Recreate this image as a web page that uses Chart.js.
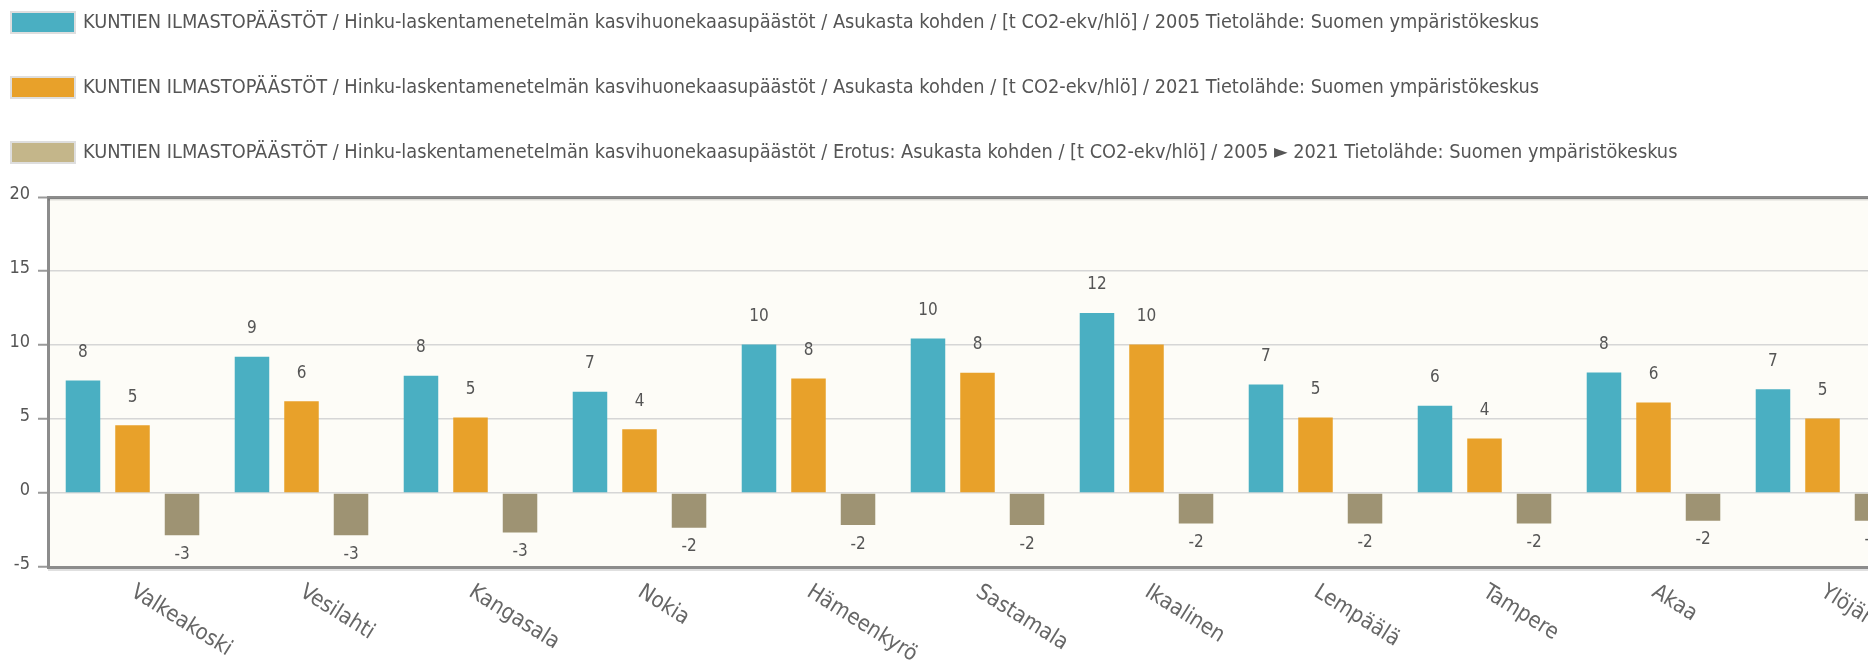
<!DOCTYPE html>
<html><head><meta charset="utf-8">
<script src="https://cdn.jsdelivr.net/npm/chart.js@4.4.1/dist/chart.umd.min.js"></script>
<style>
html,body{margin:0;padding:0;background:#fff;overflow:hidden;width:1868px;height:665px;}
#wrap{position:absolute;left:0;top:0;width:1912px;height:665px;}
</style></head><body>
<div id="wrap"><canvas id="c" width="1912" height="665"></canvas></div>
<script>
const categories = ['Valkeakoski','Vesilahti','Kangasala','Nokia','Hämeenkyrö','Sastamala','Ikaalinen','Lempäälä','Tampere','Akaa','Ylöjärvi'];
const seriesNames = [
  'KUNTIEN ILMASTOPÄÄSTÖT / Hinku-laskentamenetelmän kasvihuonekaasupäästöt / Asukasta kohden / [t CO2-ekv/hlö] / 2005 Tietolähde: Suomen ympäristökeskus',
  'KUNTIEN ILMASTOPÄÄSTÖT / Hinku-laskentamenetelmän kasvihuonekaasupäästöt / Asukasta kohden / [t CO2-ekv/hlö] / 2021 Tietolähde: Suomen ympäristökeskus',
  'KUNTIEN ILMASTOPÄÄSTÖT / Hinku-laskentamenetelmän kasvihuonekaasupäästöt / Erotus: Asukasta kohden / [t CO2-ekv/hlö] / 2005 ► 2021 Tietolähde: Suomen ympäristökeskus'
];
const values2005 = [7.6, 9.2, 7.92, 6.84, 10.03, 10.44, 12.17, 7.33, 5.89, 8.14, 7.01];
const values2021 = [4.58, 6.2, 5.1, 4.31, 7.74, 8.12, 10.03, 5.1, 3.68, 6.11, 5.03];
const valuesDiff = [-2.85, -2.85, -2.67, -2.35, -2.17, -2.17, -2.06, -2.06, -2.06, -1.88, -1.87];
const yTicks = [-5, 0, 5, 10, 15, 20];

const FONT = "'DejaVu Sans Condensed','DejaVu Sans',sans-serif";
const barColors = ['#4AAFC2', '#E8A12A', '#9E9373'];
const legendBoxColors = ['#4AAFC2', '#E8A12A', '#C4B68A'];

const plotBg = {
  id: 'plotBg',
  beforeDraw(chart) {
    const {ctx, chartArea: a} = chart;
    ctx.save();
    ctx.fillStyle = '#FDFCF7';
    ctx.fillRect(a.left, a.top, a.right - a.left, a.bottom - a.top);
    ctx.restore();
  },
  afterDraw(chart) {
    const {ctx, chartArea: a} = chart;
    ctx.save();
    ctx.strokeStyle = 'rgba(0,0,0,0.12)';
    ctx.lineWidth = 2;
    ctx.beginPath();
    ctx.moveTo(a.left, a.bottom + 3); ctx.lineTo(a.right, a.bottom + 3);
    ctx.moveTo(a.left, a.top + 2.5); ctx.lineTo(a.right, a.top + 2.5);
    ctx.stroke();
    ctx.restore();
  }
};

const valueLabels = {
  id: 'valueLabels',
  afterDatasetsDraw(chart) {
    const {ctx} = chart;
    ctx.save();
    ctx.font = '17px ' + FONT;
    ctx.fillStyle = '#555';
    ctx.textAlign = 'center';
    ctx.textBaseline = 'middle';
    chart.data.datasets.forEach((ds, di) => {
      const meta = chart.getDatasetMeta(di);
      meta.data.forEach((bar, i) => {
        const v = ds.data[i];
        const y = v >= 0 ? bar.y - 28 : bar.y + 19;
        ctx.fillText(String(Math.round(v)), bar.x, y);
      });
    });
    ctx.restore();
  }
};

const xLabels = {
  id: 'xLabels',
  afterDraw(chart) {
    const {ctx, chartArea: a} = chart;
    const xs = chart.scales.x;
    ctx.save();
    ctx.font = '22px ' + FONT;
    ctx.fillStyle = '#666';
    ctx.textAlign = 'left';
    ctx.textBaseline = 'top';
    chart.data.labels.forEach((lab, i) => {
      const x = xs.getPixelForValue(i);
      ctx.save();
      ctx.translate(x + 6, a.bottom + 14);
      ctx.rotate(32 * Math.PI / 180);
      ctx.fillText(lab, 0, 0);
      ctx.restore();
    });
    ctx.restore();
  }
};

const customLegend = {
  id: 'customLegend',
  afterDraw(chart) {
    const {ctx} = chart;
    ctx.save();
    ctx.font = '19.8px ' + FONT;
    ctx.textAlign = 'left';
    ctx.textBaseline = 'middle';
    chart.data.datasets.forEach((ds, i) => {
      const yc = 23 + i * 65;
      ctx.fillStyle = legendBoxColors[i];
      ctx.fillRect(12, yc - 10, 62, 19);
      ctx.strokeStyle = '#dedede';
      ctx.lineWidth = 2;
      ctx.strokeRect(11, yc - 11, 64, 21);
      ctx.fillStyle = '#555';
      ctx.fillText(ds.label, 83, yc);
    });
    ctx.restore();
  }
};

new Chart(document.getElementById('c'), {
  type: 'bar',
  data: {
    labels: categories,
    datasets: [
      {label: seriesNames[0], data: values2005, backgroundColor: barColors[0]},
      {label: seriesNames[1], data: values2021, backgroundColor: barColors[1]},
      {label: seriesNames[2], data: valuesDiff, backgroundColor: barColors[2]}
    ]
  },
  options: {
    responsive: false,
    animation: false,
    devicePixelRatio: 1,
    categoryPercentage: 0.879,
    barPercentage: 0.697,
    layout: {padding: {top: 197, left: 0, right: 5, bottom: 0}},
    plugins: {legend: {display: false}, tooltip: {enabled: false}},
    scales: {
      x: {
        ticks: {display: false},
        grid: {display: false, drawTicks: false},
        border: {display: true, color: '#8c8c8c', width: 3},
        afterFit(s) { s.height = 98; }
      },
      y: {
        min: -5, max: 20,
        afterBuildTicks(s) { s.ticks = yTicks.map(v => ({value: v})); },
        ticks: {font: {size: 18, family: FONT}, color: '#555', padding: 8, labelOffset: -3},
        grid: {
          color: c => (c.tick && c.tick.value === 20) ? '#8c8c8c' : '#d6d6d6',
          lineWidth: c => (c.tick && c.tick.value === 20) ? 3 : 1.5,
          tickLength: 10,
          tickColor: '#9a9a9a',
          tickWidth: 2
        },
        border: {display: true, color: '#8c8c8c', width: 3},
        afterFit(s) { s.width = 48; }
      }
    }
  },
  plugins: [plotBg, valueLabels, xLabels, customLegend]
});
</script>
</body></html>
